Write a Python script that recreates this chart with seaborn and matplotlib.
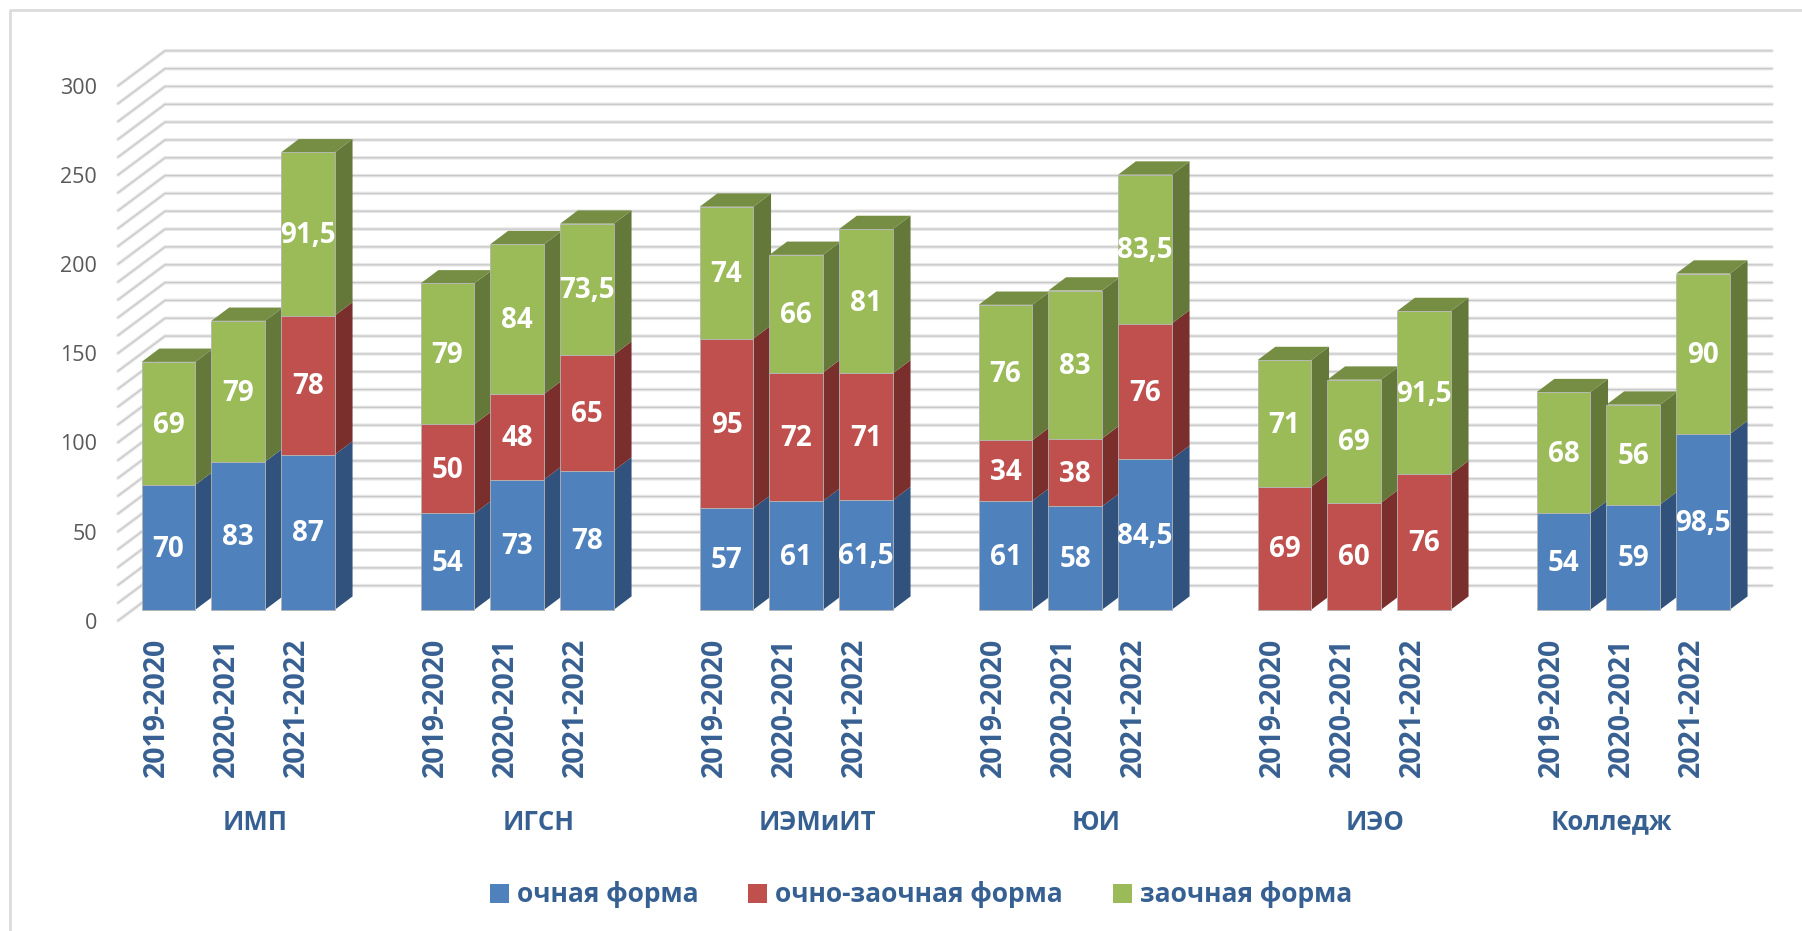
import numpy as np
import pandas as pd
import matplotlib
matplotlib.use("Agg")
import matplotlib.pyplot as plt
from matplotlib.patches import Patch, Polygon
from matplotlib.lines import Line2D
import seaborn as sns

# values per form of study, three years in each of the six groups
groups = ["ИМП", "ИГСН", "ИЭМиИТ", "ЮИ", "ИЭО", "Колледж"]
years = ["2019-2020", "2020-2021", "2021-2022"]
series_names = ["очная форма", "очно-заочная форма", "заочная форма"]
full_time = [70, 83, 87, 54, 73, 78, 57, 61, 61.5, 61, 58, 84.5, 0, 0, 0, 54, 59, 98.5]
mixed = [0, 0, 78, 50, 48, 65, 95, 72, 71, 34, 38, 76, 69, 60, 76, 0, 0, 0]
extramural = [69, 79, 91.5, 79, 84, 73.5, 74, 66, 81, 76, 83, 83.5, 71, 69, 91.5, 68, 56, 90]
y_ticks = [0, 50, 100, 150, 200, 250, 300]

front_colors = ["#4F81BD", "#C0504D", "#9BBB59"]
side_colors = ["#31527D", "#7A2F2D", "#64783A"]
top_colors = ["#3E6595", "#974340", "#758E43"]
text_blue = "#376092"

W, H = 1802, 931
X0, Y0 = 168.5, 609.7    # pixel of slot 0 / value 0 on the bar front
SLOT, UNIT = 69.75, 1.783  # pixels per slot / per value
BAR_DX, BAR_DY = 17.7 / SLOT, 13.3 / UNIT
WALL_DX, WALL_DY = 47 / SLOT, 35 / UNIT
# group captions are not quite centred under their bars in the original
group_shift_px = [17, 21, 21.5, 21, 21, -22]


def px_x(px):
    return (px - X0) / SLOT


def px_y(py):
    return (Y0 - py) / UNIT


sns.set_style("white")
plt.rcParams["font.family"] = ["Open Sans", "DejaVu Sans"]

slots = [g * 4 + y for g in range(len(groups)) for y in range(len(years))]
df = pd.DataFrame({
    "slot": slots,
    series_names[0]: full_time,
    series_names[1]: mixed,
    series_names[2]: extramural,
})

fig = plt.figure(figsize=(W / 100, H / 100), dpi=100)
left, right, top, bottom = 118, 1780, 40, 620.7
ax = fig.add_axes([left / W, 1 - bottom / H, (right - left) / W, (bottom - top) / H])

# faint frame of the pasted chart
fig.add_artist(Line2D([9.5 / W, 9.5 / W, 1], [0, 1 - 10 / H, 1 - 10 / H], transform=fig.transFigure,
                      color="#dcdcdc", lw=2))

# stacked bars, one barplot per series on top of the previous ones
base = np.zeros(len(df))
for name, color in zip(series_names, front_colors):
    sns.barplot(data=df, x="slot", y=name, native_scale=True, color=color, saturation=1,
                width=53.7 / SLOT, bottom=base, errorbar=None, ax=ax,
                edgecolor="#b5b5b5", linewidth=0.6)
    base = base + df[name].to_numpy()

ax.set_xlim(px_x(left), px_x(right))
ax.set_ylim(px_y(bottom), px_y(top))

# 3d look: sides and top caps, later slots cover earlier ones
for patch in ax.patches:
    patch.set_zorder(3 + patch.get_x() * 0.01)
for i, slot in enumerate(df["slot"]):
    z = 3 + (slot - 0.4) * 0.01
    x1 = slot + 53.7 / SLOT / 2
    low = 0
    for name, side, cap in zip(series_names, side_colors, top_colors):
        val = df[name].iloc[i]
        if val == 0:
            continue
        ax.add_patch(Polygon([(x1, low), (x1 + BAR_DX, low + BAR_DY), (x1 + BAR_DX, low + val + BAR_DY), (x1, low + val)],
                             facecolor=side, edgecolor="none", zorder=z))
        low += val
        last_cap = cap
        ax.text(slot, low - val / 2 - 1, f"{val:g}".replace(".", ","), color="white", fontsize=20,
                fontweight="bold", ha="center", va="center", zorder=100)
    x0 = slot - 53.7 / SLOT / 2
    ax.add_patch(Polygon([(x0, low), (x1, low), (x1 + BAR_DX, low + BAR_DY), (x0 + BAR_DX, low + BAR_DY)],
                         facecolor=last_cap, edgecolor="none", zorder=z))

# grid on the back wall and side wall, every 10
wall_x = px_x(left) + WALL_DX
for v in range(0, 310, 10):
    back_y = v + px_y(bottom) + WALL_DY
    for lw, col in [(2.6, "#e8e8e8"), (0.9, "#c8c8c8")]:
        ax.plot([px_x(left), wall_x, px_x(1772)], [back_y - WALL_DY, back_y, back_y], color=col, lw=lw,
                solid_joinstyle="miter", solid_capstyle="round", zorder=1, clip_on=False)

ax.set_yticks(np.array(y_ticks) + px_y(bottom), labels=[str(t) for t in y_ticks])
ax.tick_params(axis="y", length=0, pad=15, labelsize=15.5, labelcolor="#595959")
ax.set_xticks(np.array(slots) - 12 / SLOT, labels=years * len(groups), rotation=90)
ax.tick_params(axis="x", length=0, pad=12, labelsize=20.5, labelcolor=text_blue)
for lab in ax.get_xticklabels():
    lab.set_fontweight("bold")
ax.set_xlabel("")
ax.set_ylabel("")
sns.despine(ax=ax, left=True, bottom=True)

for g, name in enumerate(groups):
    ax.text(g * 4 + 1 + group_shift_px[g] / SLOT, px_y(822), name, color=text_blue, fontsize=18.5, fontweight="bold",
            ha="center", va="center", clip_on=False)

handles = [Patch(facecolor=c, edgecolor="none", label=n) for c, n in zip(front_colors, series_names)]
ax.legend(handles=handles, ncol=3, frameon=False, loc="center", bbox_to_anchor=(921 / W, 1 - 895 / H),
          bbox_transform=fig.transFigure, labelcolor=text_blue, handlelength=0.72, handleheight=0.72,
          handletextpad=0.3, columnspacing=1.9, prop={"size": 19, "weight": "bold"})

fig.savefig("out.png", dpi=100)
